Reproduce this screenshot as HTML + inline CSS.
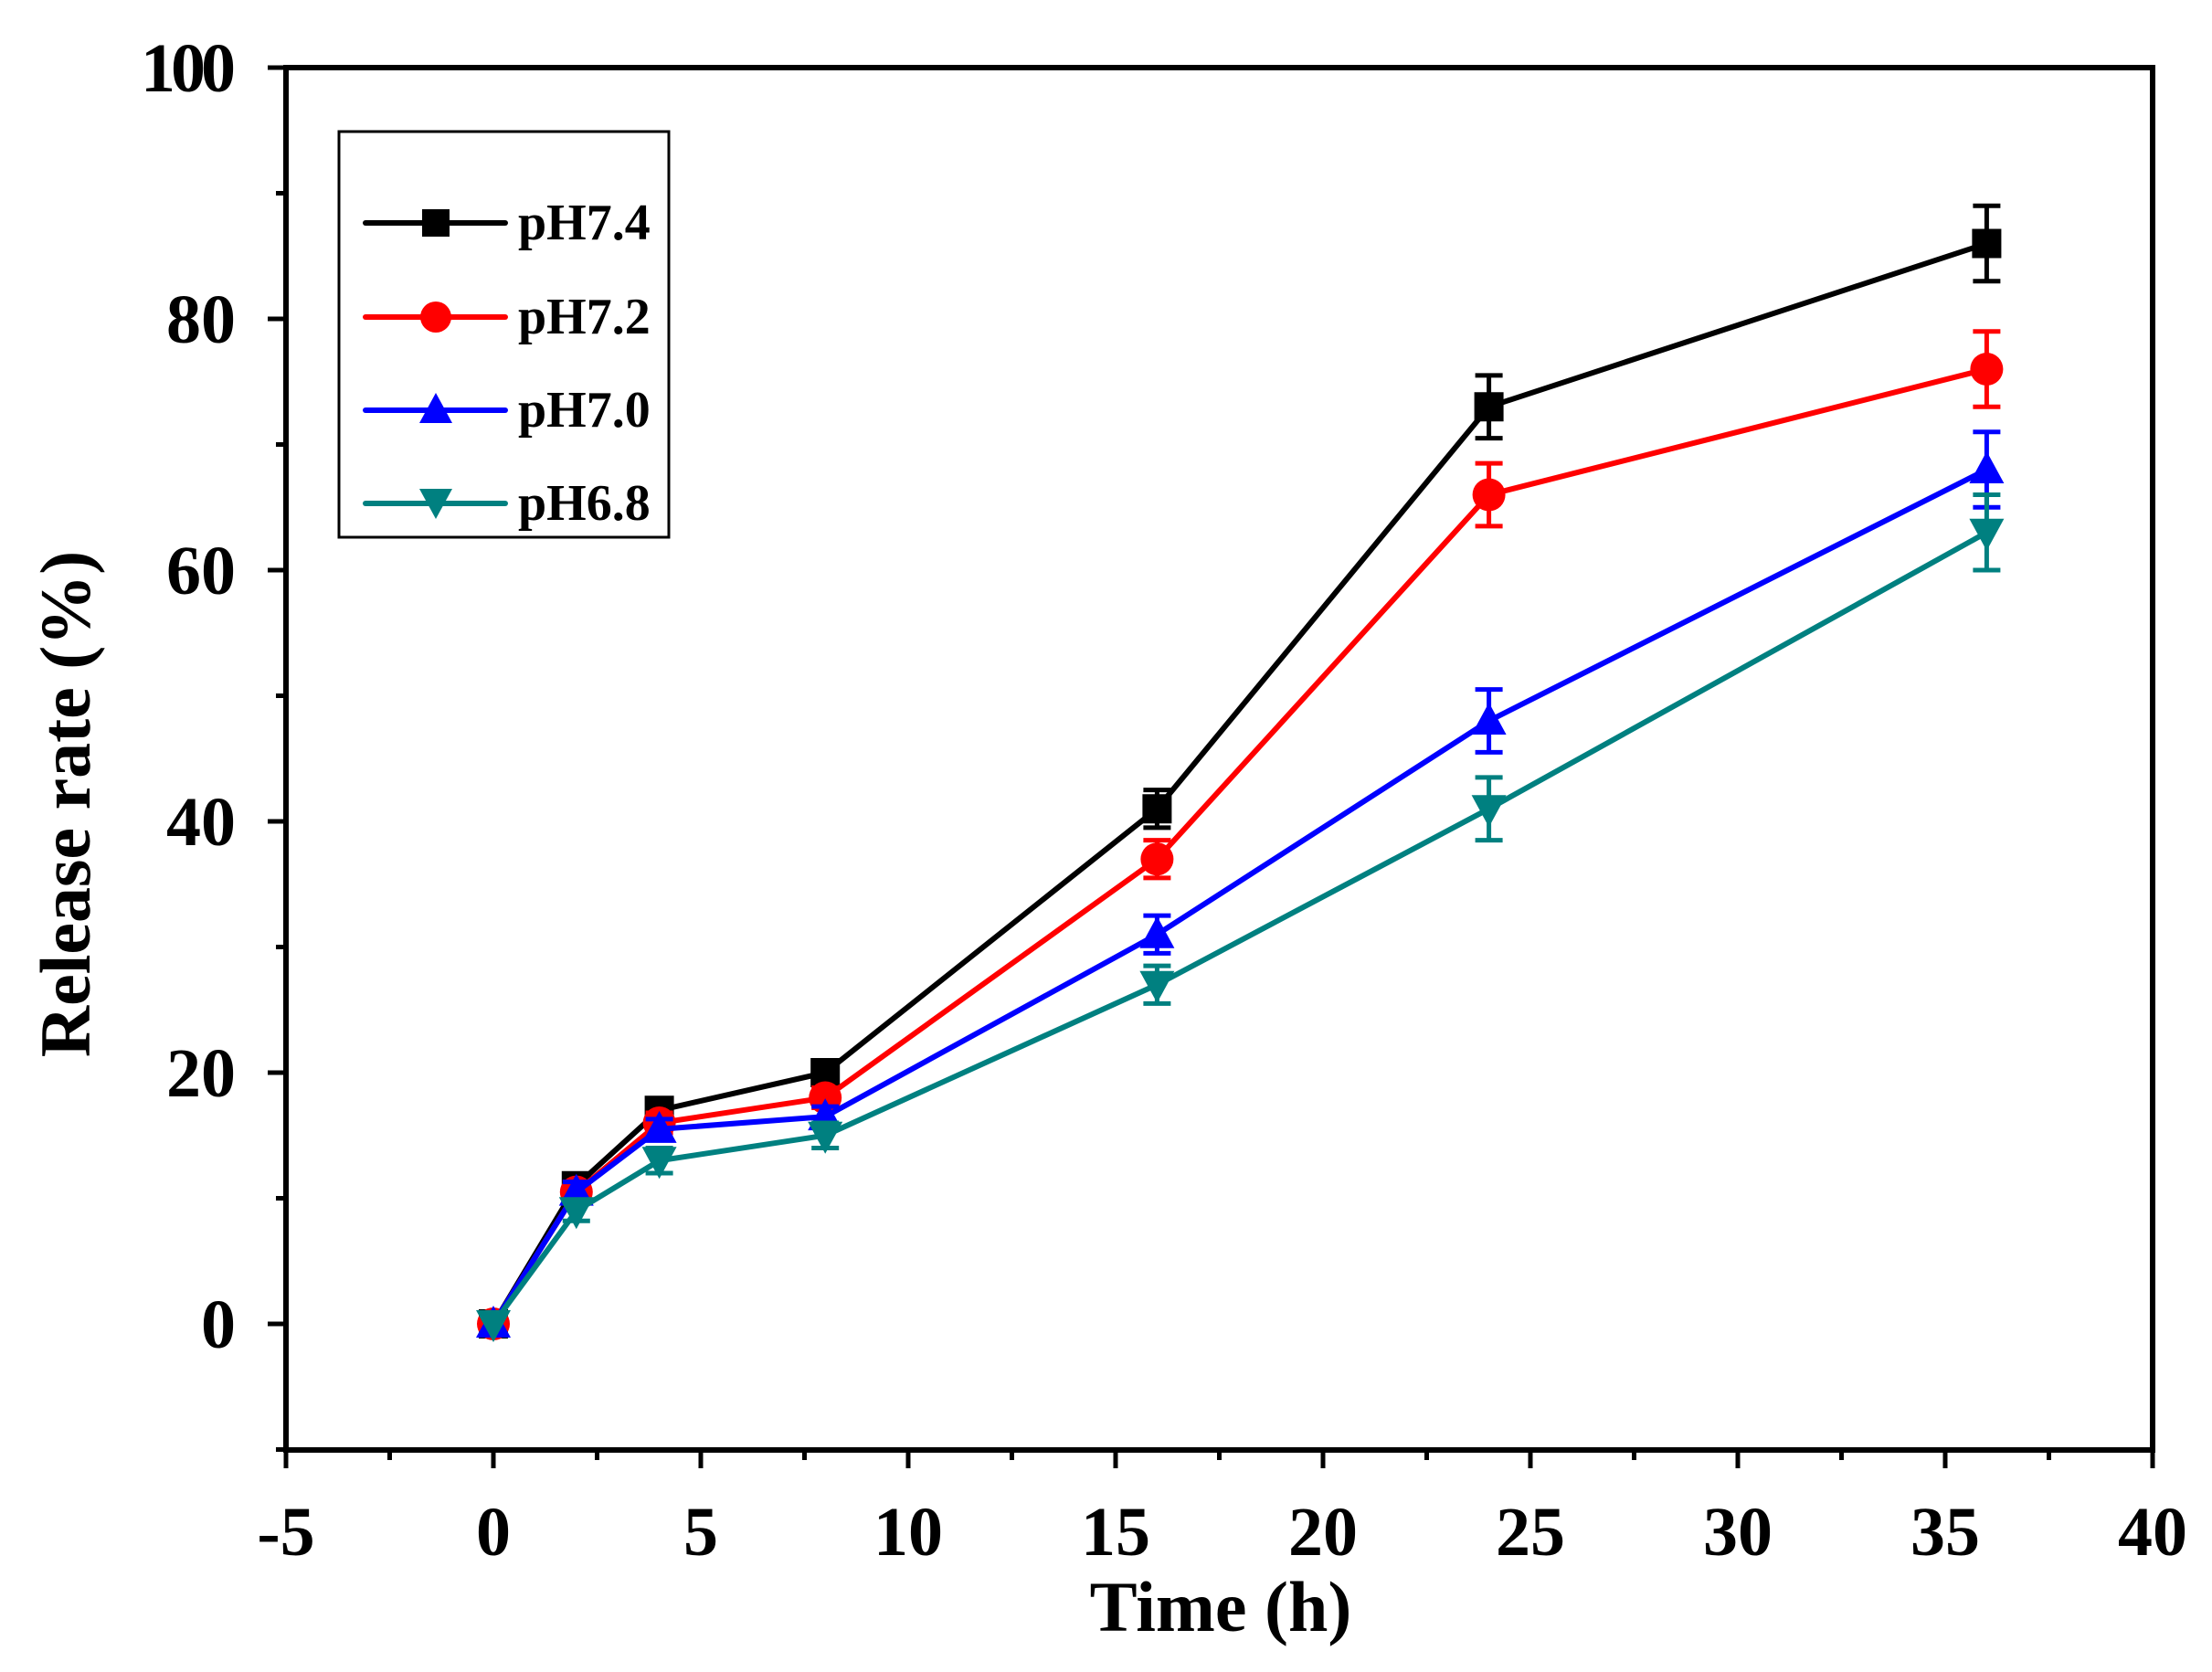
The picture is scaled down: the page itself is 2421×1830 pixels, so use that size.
<!DOCTYPE html>
<html><head><meta charset="utf-8"><style>
html,body{margin:0;padding:0;background:#fff}
svg text{font-family:"Liberation Serif",serif;font-weight:bold}
</style></head><body>
<svg id="s" width="2421" height="1825" viewBox="0 0 2421 1825" xmlns="http://www.w3.org/2000/svg">
<rect x="313" y="74" width="2043" height="1513" fill="none" stroke="#000" stroke-width="6"/>
<g id="ticks" stroke="#000" stroke-width="5"></g>
<g font-size="76" text-anchor="end">
<text x="258" y="100" textLength="104">100</text>
<text x="258" y="375">80</text>
<text x="258" y="650">60</text>
<text x="258" y="925">40</text>
<text x="258" y="1200">20</text>
<text x="258" y="1475">0</text>
</g>
<g font-size="76" text-anchor="middle">
<text x="313" y="1702">-5</text>
<text x="540" y="1702">0</text>
<text x="767" y="1702">5</text>
<text x="994" y="1702">10</text>
<text x="1221" y="1702">15</text>
<text x="1448" y="1702">20</text>
<text x="1675" y="1702">25</text>
<text x="1902" y="1702">30</text>
<text x="2129" y="1702">35</text>
<text x="2356" y="1702">40</text>
<text x="1336" y="1785" font-size="78">Time (h)</text>
<text transform="translate(98,880) rotate(-90)" font-size="78">Release rate (%)</text>
</g>
<g id="data"></g>
<rect x="371" y="144" width="361" height="444" fill="#fff" stroke="#000" stroke-width="3"/>
<g stroke-width="6" stroke-linecap="round">
<line x1="400" y1="244" x2="553" y2="244" stroke="#000"/>
<rect x="462" y="229" width="30" height="30" fill="#000"/>
<line x1="400" y1="347" x2="553" y2="347" stroke="#f00"/>
<circle cx="477" cy="347" r="17" fill="#f00" stroke="none"/>
<line x1="400" y1="449" x2="553" y2="449" stroke="#00f"/>
<polygon points="477,430 495,463 459,463" fill="#00f" stroke="none"/>
<line x1="400" y1="551" x2="553" y2="551" stroke="#008080"/>
<polygon points="459,535 495,535 477,568" fill="#008080" stroke="none"/>
</g>
<g font-size="56">
<text x="567" y="262">pH7.4</text>
<text x="567" y="365">pH7.2</text>
<text x="567" y="467">pH7.0</text>
<text x="567" y="569">pH6.8</text>
</g>
</svg>
<script>
var NS="http://www.w3.org/2000/svg";
function X(v){return 540+v*45.4}
function Y(v){return 1449-v*13.75}
function el(p,t,a){var e=document.createElementNS(NS,t);for(var k in a)e.setAttribute(k,a[k]);p.appendChild(e);return e}
var tk=document.getElementById('ticks');
for(var v=-5;v<=40;v+=2.5){var L=(v%5===0)?20:11;el(tk,'line',{x1:X(v),y1:1587,x2:X(v),y2:1587+L});}
for(var v=-10;v<=100;v+=10){var L=(v%20===0)?20:11;el(tk,'line',{x1:313,y1:Y(v),x2:313-L,y2:Y(v)});}
var xs=[0,2,4,8,16,24,36];
var S=[
{c:"#000",m:"sq",y:[0,11,17,20,41,73,86],e:[0,0.8,0.8,0.8,1.5,2.5,3]},
{c:"#f00",m:"ci",y:[0,10.5,16,18,37,66,76],e:[0,0.8,0.8,0.8,1.5,2.5,3]},
{c:"#00f",m:"up",y:[0,10.5,15.5,16.5,31,48,68],e:[0,0.8,0.8,0.8,1.5,2.5,3]},
{c:"#008080",m:"dn",y:[0,9,13,15,27,41,63],e:[0,0.8,1,1,1.5,2.5,3]}];
var g=document.getElementById('data');
S.forEach(function(s){
 var pts=xs.map(function(x,i){return X(x)+","+Y(s.y[i])}).join(" ");
 el(g,'polyline',{points:pts,fill:"none",stroke:s.c,"stroke-width":6,"stroke-linejoin":"round"});
 xs.forEach(function(x,i){
  var cx=X(x),cy=Y(s.y[i]),e=s.e[i]*13.75;
  if(e>0){el(g,'line',{x1:cx,y1:cy-e,x2:cx,y2:cy+e,stroke:s.c,"stroke-width":5});
   el(g,'line',{x1:cx-15,y1:cy-e,x2:cx+15,y2:cy-e,stroke:s.c,"stroke-width":5});
   el(g,'line',{x1:cx-15,y1:cy+e,x2:cx+15,y2:cy+e,stroke:s.c,"stroke-width":5});}
  if(s.m=="sq")el(g,'rect',{x:cx-16,y:cy-16,width:32,height:32,fill:s.c});
  else if(s.m=="ci")el(g,'circle',{cx:cx,cy:cy,r:18,fill:s.c});
  else if(s.m=="up")el(g,'polygon',{points:(cx)+","+(cy-20)+" "+(cx+19)+","+(cy+15)+" "+(cx-19)+","+(cy+15),fill:s.c});
  else el(g,'polygon',{points:(cx-19)+","+(cy-15)+" "+(cx+19)+","+(cy-15)+" "+cx+","+(cy+20),fill:s.c});
 });
});
</script>
</body></html>
